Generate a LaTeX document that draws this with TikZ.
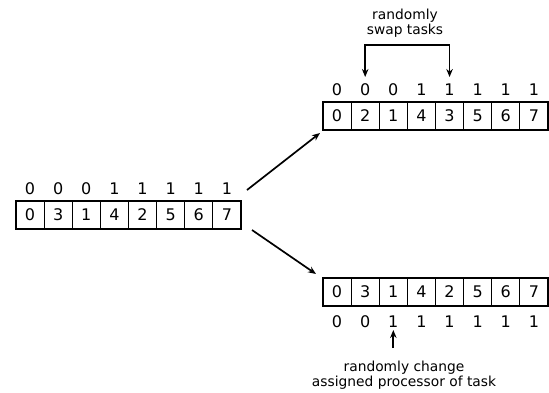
\documentclass[tikz,border=0pt]{standalone}
\usepackage{fontspec}
\setmainfont{DejaVu Sans}
\usetikzlibrary{arrows.meta,calc}
\begin{document}
\begin{tikzpicture}[x=1pt,y=-1pt,
  cell/.style={draw,line width=1.2pt,minimum width=28.125pt,minimum height=28pt,
               inner sep=0pt,font=\fontsize{16}{16}\selectfont},
  bit/.style={inner sep=0pt,font=\fontsize{16}{16}\selectfont},
  lbl/.style={inner sep=0pt,anchor=base,font=\fontsize{13.8}{15}\selectfont},
  tip/.style={Stealth[length=8pt,width=6.5pt]},
  arr/.style={line width=1.7pt,-{Stealth[length=8pt,width=6.5pt]}},
  swaparr/.style={line width=1.6pt,{Stealth[length=8pt,width=6.5pt]}-{Stealth[length=8pt,width=6.5pt]}}]
\useasboundingbox (0,0) rectangle (549,392);

% initial assignment (left)
\foreach \v [count=\i] in {0,3,1,4,2,5,6,7}
  \node[cell] (l\i) at ({16+28.125*(\i-0.5)},215) {\v};
\foreach \b [count=\i] in {0,0,0,1,1,1,1,1}
  \node[bit] (lb\i) at ({16+28.125*(\i-0.5)},189) {\b};

% after swapping two tasks (top right)
\foreach \v [count=\i] in {0,2,1,4,3,5,6,7}
  \node[cell] (t\i) at ({323+28.125*(\i-0.5)},116) {\v};
\foreach \b [count=\i] in {0,0,0,1,1,1,1,1}
  \node[bit] (tb\i) at ({323+28.125*(\i-0.5)},90) {\b};

% after changing a processor (bottom right)
\foreach \v [count=\i] in {0,3,1,4,2,5,6,7}
  \node[cell] (b\i) at ({323+28.125*(\i-0.5)},292) {\v};
\foreach \b [count=\i] in {0,0,1,1,1,1,1,1}
  \node[bit] (bb\i) at ({323+28.125*(\i-0.5)},322) {\b};

% labels
\node[lbl] (swa) at (405,19) {randomly};
\node[lbl] (swb) at (405,34) {swap tasks};
\node[lbl] (cha) at (404,371) {randomly change};
\node[lbl] (chb) at (404,386) {assigned processor of task};

% branching arrows
\coordinate (u0) at (247,190);
\coordinate (u1) at (320,133);
\coordinate (d0) at (252,230);
\coordinate (d1) at (316,274);
\draw[arr] (u0) -- (u1);
\draw[arr] (d0) -- (d1);

% swap bracket
\coordinate (s1) at (tb2.north |- 0,77);
\coordinate (s2) at (tb5.north |- 0,77);
\draw[swaparr] (s1) -- (s1 |- 0,45) -- (s2 |- 0,45) -- (s2);

% change arrow
\coordinate (c0) at (bb3.south |- 0,348);
\coordinate (c1) at (bb3.south |- 0,330);
\draw[arr] (c0) -- (c1);
\end{tikzpicture}
\end{document}
